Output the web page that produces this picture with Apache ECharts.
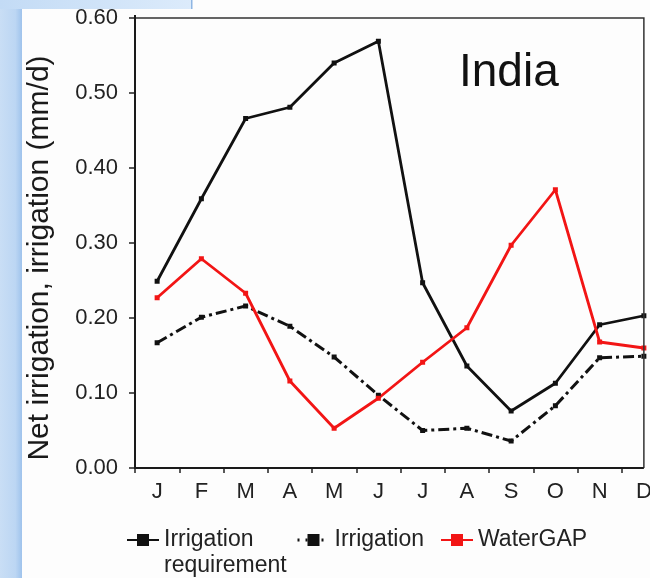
<!DOCTYPE html>
<html>
<head>
<meta charset="utf-8">
<script src="https://cdn.jsdelivr.net/npm/echarts@6/dist/echarts.min.js"></script>
<style>
  html, body { margin: 0; padding: 0; background: #ffffff; }
  #chart { width: 650px; height: 578px; }
</style>
</head>
<body>
<div id="chart"></div>
<script>
// Monthly net irrigation for India (mm/d)
const months = ['J', 'F', 'M', 'A', 'M', 'J', 'J', 'A', 'S', 'O', 'N', 'D'];
const irrigationRequirement = [0.249, 0.359, 0.466, 0.481, 0.540, 0.569, 0.247, 0.136, 0.076, 0.113, 0.191, 0.203];
const irrigation = [0.167, 0.201, 0.216, 0.189, 0.148, 0.097, 0.050, 0.053, 0.036, 0.083, 0.147, 0.149];
const waterGAP = [0.227, 0.279, 0.233, 0.116, 0.053, 0.093, 0.141, 0.187, 0.297, 0.371, 0.168, 0.160];
const yTicks = [0, 0.1, 0.2, 0.3, 0.4, 0.5, 0.6];

const FONT = 'Liberation Sans, Arial, sans-serif';
const TEXT = '#222222';

const chart = echarts.init(document.getElementById('chart'), null, { renderer: 'canvas' });

const legendBase = {
  orient: 'horizontal',
  padding: 0,
  itemWidth: 32,
  itemHeight: 15,
  itemGap: 0,
  textStyle: { fontFamily: FONT, fontSize: 23, color: TEXT, lineHeight: 26 }
};

const option = {
  backgroundColor: '#fdfdfd',
  animation: false,
  title: {
    text: 'India',
    left: 459,
    top: 50,
    padding: 0,
    textStyle: { fontFamily: FONT, fontSize: 46, fontWeight: 'normal', color: '#111111' }
  },
  // the last month sits on the right frame edge, so the band grid runs past the canvas
  grid: { left: 135, top: 18, height: 450, width: 531, containLabel: false, outerBoundsMode: 'none' },
  xAxis: {
    type: 'category',
    data: months,
    boundaryGap: true,
    axisLine: { show: false },
    axisTick: { show: true, length: 5, inside: false, lineStyle: { color: '#222', width: 1.5 } },
    axisLabel: { fontFamily: FONT, fontSize: 22, color: TEXT, margin: 13, interval: 0 },
    splitLine: { show: false }
  },
  yAxis: {
    type: 'value',
    min: yTicks[0],
    max: yTicks[yTicks.length - 1],
    interval: 0.1,
    name: 'Net irrigation, irrigation (mm/d)',
    nameLocation: 'middle',
    nameRotate: 90,
    nameGap: 80,
    nameTextStyle: { fontFamily: FONT, fontSize: 30, color: '#1a1a1a', padding: [0, 30, 0, 0] },
    axisLine: { show: false },
    axisTick: { show: true, length: 6, inside: false, lineStyle: { color: '#222', width: 1.5 } },
    axisLabel: { fontFamily: FONT, fontSize: 22, color: TEXT, margin: 17, formatter: v => v.toFixed(2) },
    splitLine: { show: false }
  },
  legend: [
    Object.assign({}, legendBase, {
      left: 126, top: 501,
      data: ['Irrigation requirement'],
      // blank first line keeps "Irrigation" level with the marker
      formatter: () => ' \nIrrigation\nrequirement'
    }),
    Object.assign({}, legendBase, {
      left: 296, top: 527,
      data: ['Irrigation'],
      lineStyle: { type: [2, 6], width: 3 }
    }),
    Object.assign({}, legendBase, { left: 440, top: 527, data: ['WaterGAP'] })
  ],
  series: [
    {
      name: 'Irrigation requirement',
      type: 'line',
      data: irrigationRequirement,
      symbol: 'rect',
      symbolSize: 5,
      showSymbol: true,
      itemStyle: { color: '#111111' },
      lineStyle: { color: '#111111', width: 2.8 }
    },
    {
      name: 'Irrigation',
      type: 'line',
      data: irrigation,
      symbol: 'rect',
      symbolSize: 5,
      itemStyle: { color: '#111111' },
      lineStyle: { color: '#111111', width: 3, type: [11, 4, 3, 4] }
    },
    {
      name: 'WaterGAP',
      type: 'line',
      data: waterGAP,
      symbol: 'rect',
      symbolSize: 5,
      itemStyle: { color: '#f21515' },
      lineStyle: { color: '#f21515', width: 2.8 }
    }
  ]
};

chart.setOption(option);

// Plot frame: left and bottom axes plus the top and right borders,
// closing at the last month's position; slide backdrop strips on the left/top.
const p0 = chart.convertToPixel({ gridIndex: 0 }, [0, yTicks[0]]);
const pTop = chart.convertToPixel({ yAxisIndex: 0 }, yTicks[yTicks.length - 1]);
const xLeft = chart.getModel().getComponent('grid', 0).coordinateSystem.getRect().x;
const xRight = chart.convertToPixel({ xAxisIndex: 0 }, months.length - 1);
const yBottom = p0[1];

chart.setOption({
  graphic: [
    {
      type: 'rect', silent: true, z: -10,
      shape: { x: 0, y: 0, width: 22, height: 578 },
      style: {
        fill: new echarts.graphic.LinearGradient(0, 0, 1, 0, [
          { offset: 0, color: '#c9def5' }, { offset: 0.7, color: '#bcd6f3' }, { offset: 1, color: '#9fc3ec' }
        ])
      }
    },
    {
      type: 'rect', silent: true, z: -10,
      shape: { x: 0, y: 0, width: 192, height: 9 },
      style: {
        fill: new echarts.graphic.LinearGradient(0, 0, 1, 0, [
          { offset: 0, color: '#c3dbf5' }, { offset: 1, color: '#dcebfb' }
        ])
      }
    },
    {
      type: 'rect', silent: true, z: -9,
      shape: { x: 191, y: 0, width: 1.5, height: 9 },
      style: { fill: '#8fb6e3' }
    },
    {
      type: 'polyline', silent: true, z: 10,
      shape: { points: [[xLeft, pTop], [xRight, pTop], [xRight, yBottom]] },
      style: { stroke: '#333333', lineWidth: 1.5, fill: null }
    },
    {
      type: 'polyline', silent: true, z: 10,
      shape: { points: [[xLeft, pTop - 3], [xLeft, yBottom], [xRight, yBottom]] },
      style: { stroke: '#1a1a1a', lineWidth: 2, fill: null }
    }
  ]
});
</script>
</body>
</html>
